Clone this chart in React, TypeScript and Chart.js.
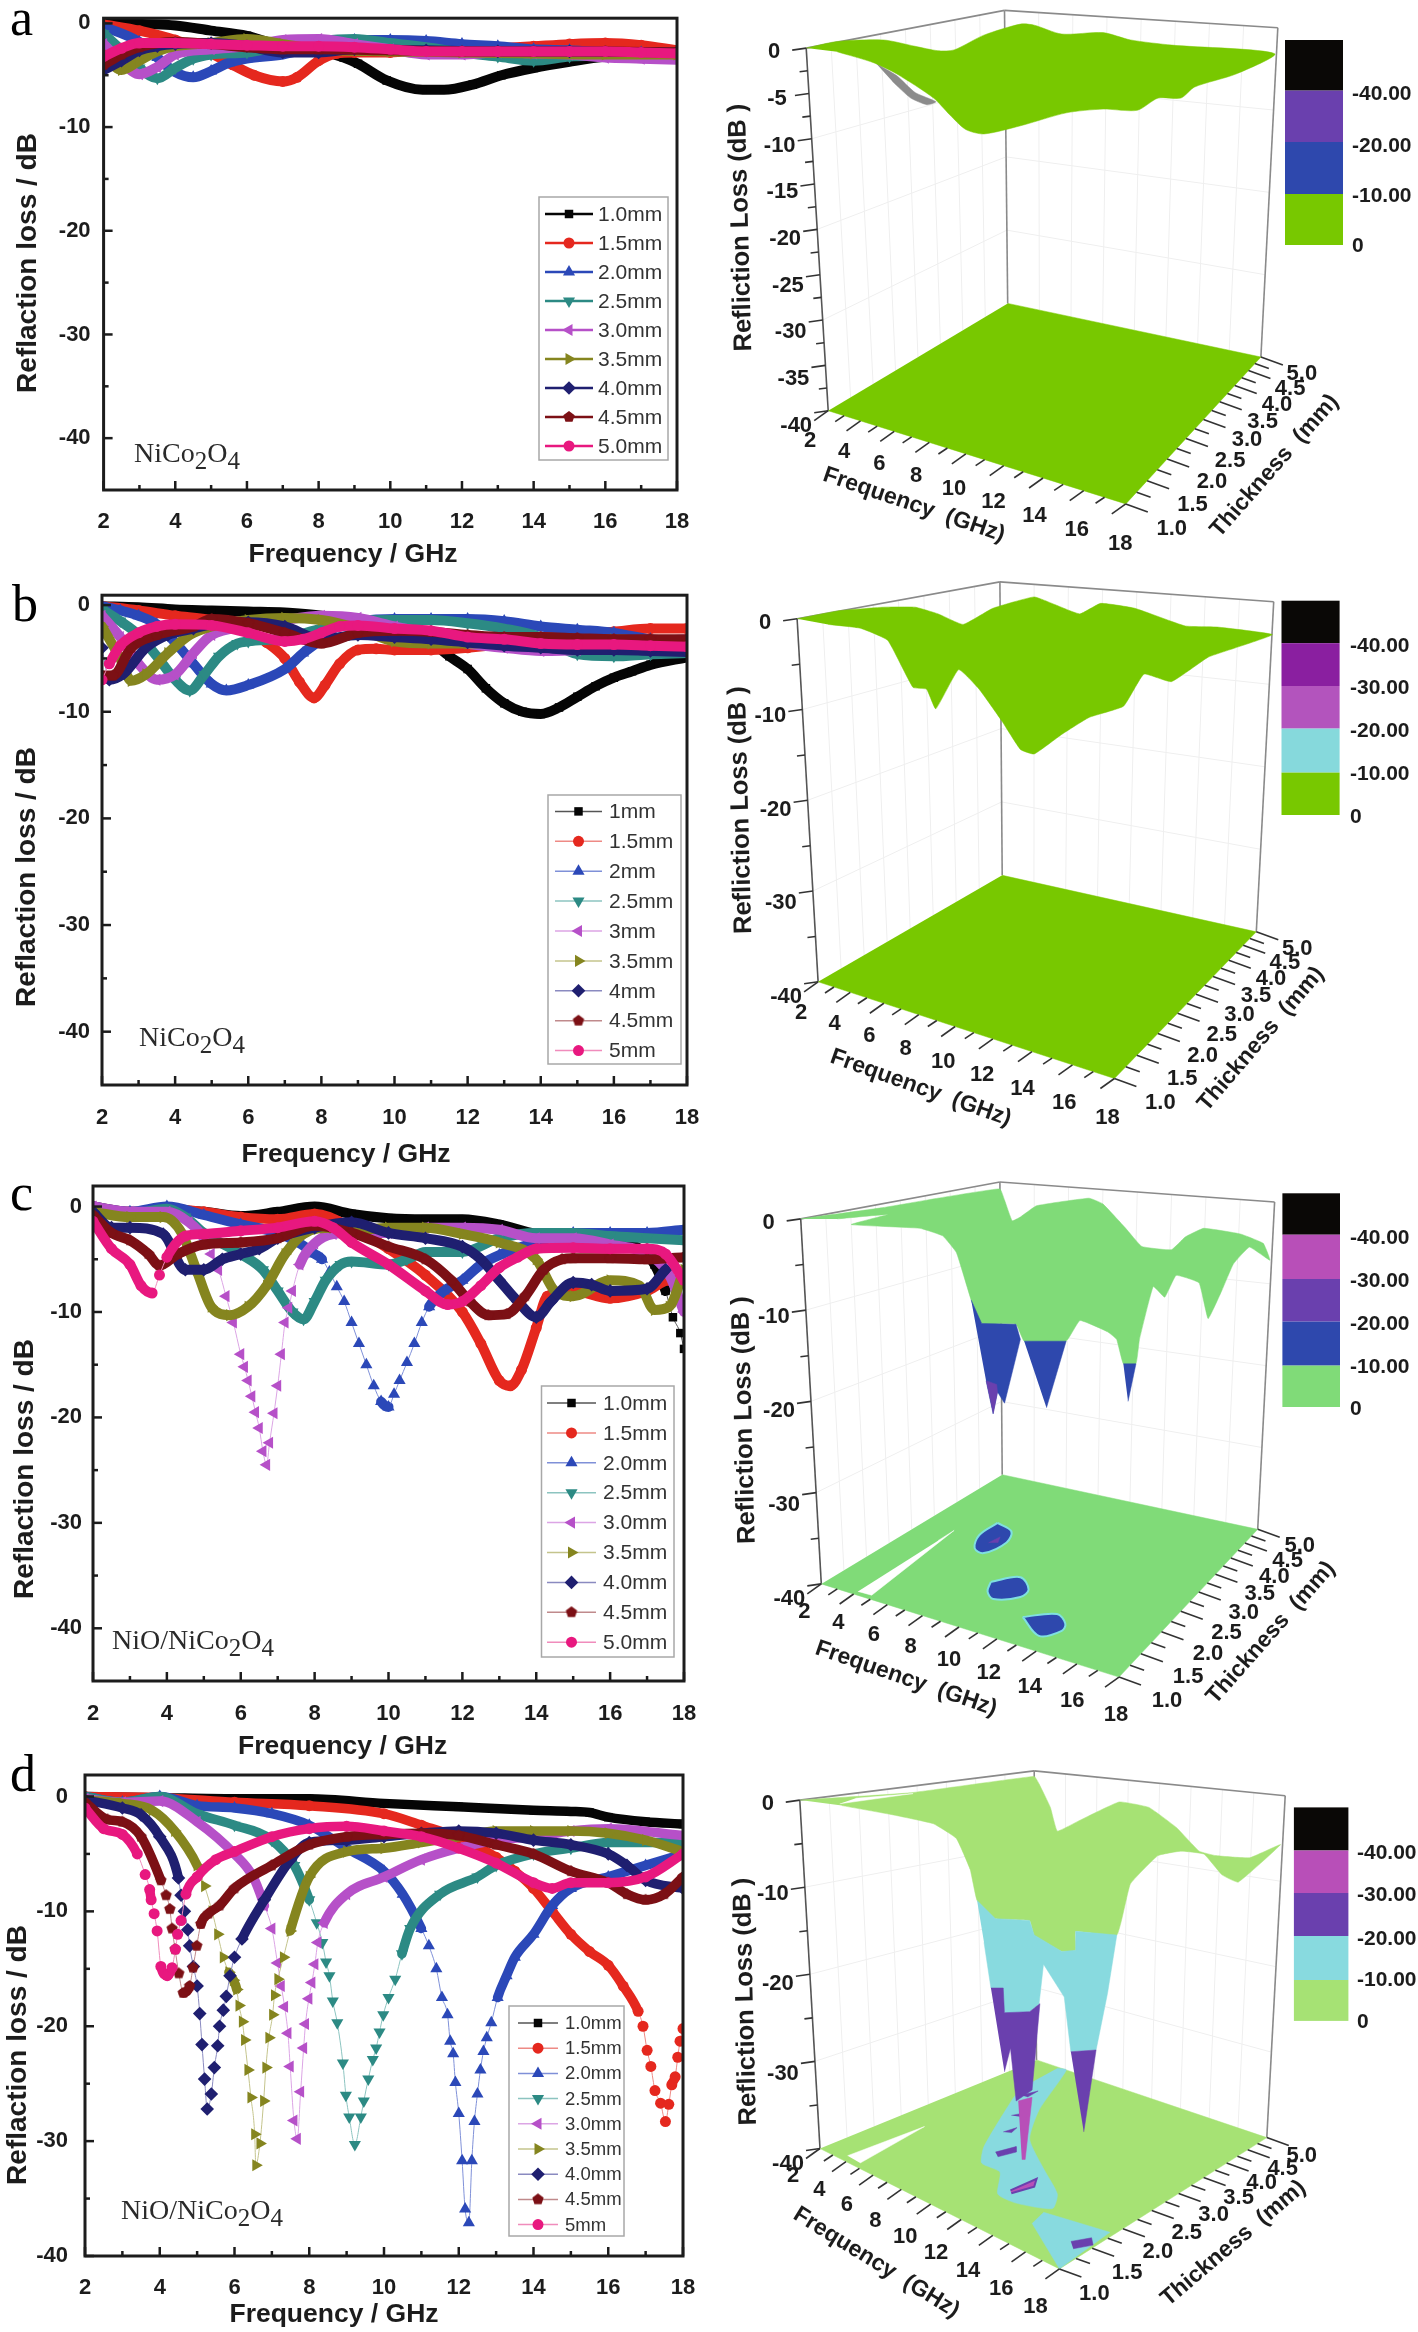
import React, { useEffect, useRef } from "react";
import { Chart, registerables } from "chart.js";
import { drawPoint } from "chart.js/helpers";

Chart.register(...registerables);

type P = [number, number];

/* ---------- tick labels ---------- */
const freqTicks = [2, 3, 4, 5, 6, 7, 8, 9, 10, 11, 12, 13, 14, 15, 16, 17, 18];
const dbTicks = [0, -5, -10, -15, -20, -25, -30, -35, -40];
const thickLabels = [1, 1.5, 2, 2.5, 3, 3.5, 4, 4.5, 5];

/* ---------- legends ---------- */
const legendFull = ["1.0mm", "1.5mm", "2.0mm", "2.5mm", "3.0mm", "3.5mm", "4.0mm", "4.5mm", "5.0mm"];
const legendShort = ["1mm", "1.5mm", "2mm", "2.5mm", "3mm", "3.5mm", "4mm", "4.5mm", "5mm"];
const legendD = ["1.0mm", "1.5mm", "2.0mm", "2.5mm", "3.0mm", "3.5mm", "4.0mm", "4.5mm", "5mm"];

/* ---------- panel a, reflection loss [GHz, dB] ---------- */
const a10: P[] = [[2,0],[4,-0.2],[5,-0.7],[6,-1.2],[7,-2.2],[8,-2.6],[8.7,-3.3],[9.1,-3.9],[9.9,-5.5],[10.9,-6.4],[11.5,-6.4],[12.3,-5.9],[13.1,-5],[14,-4.3],[15,-3.7],[16,-3.2],[18,-2.8]];
const a15: P[] = [[2,-0.1],[3,-0.7],[4,-1.6],[5,-2.9],[5.6,-4],[6.2,-5],[7,-5.6],[7.4,-5.2],[8,-3.6],[8.5,-2.9],[9,-2.8],[10,-2.8],[11,-2.6],[12,-2.6],[13,-2.4],[14,-2.2],[15,-2],[16,-1.9],[17,-2.1],[18,-2.6]];
const a20: P[] = [[2,-0.3],[3,-1.8],[3.5,-3.3],[4,-4.7],[4.5,-5.2],[5,-4.6],[5.5,-3.8],[6,-3.4],[7,-3],[8,-2.2],[9,-1.6],[10,-1.6],[11,-1.7],[12,-2],[13,-2.2],[14,-2.5],[15,-2.6],[16,-2.8],[17,-2.8],[18,-3]];
const a25: P[] = [[2,-1],[2.5,-2.6],[3,-4.3],[3.5,-5.3],[4,-4.3],[4.5,-3.4],[5,-3],[6,-2.8],[7,-2.2],[8,-1.7],[9,-1.5],[10,-1.9],[11,-2.3],[12,-2.8],[13,-3.2],[14,-3.6],[15,-3.2],[16,-3.1],[17,-3],[18,-3]];
const a30: P[] = [[2,-2],[2.5,-3.7],[3,-4.9],[3.5,-4.2],[4,-3],[5,-2.5],[6,-2.2],[7,-1.6],[8,-1.5],[9,-2],[10,-2.5],[11,-3],[12,-3],[13,-2.8],[14,-2.9],[15,-3],[16,-3.3],[17,-3.4],[18,-3.5]];
const a35: P[] = [[2,-3],[2.5,-4.5],[3,-3.6],[3.5,-2.7],[4,-2.2],[5,-1.9],[6,-1.5],[7,-2],[8,-2.5],[10,-2.7],[12,-2.8],[14,-2.9],[16,-3],[18,-3]];
const a40: P[] = [[2,-4.5],[2.5,-3.6],[3,-2.6],[3.5,-2.2],[4,-2],[5,-1.9],[6,-2.2],[7,-2.8],[8,-2.8],[9,-2.5],[11,-2.6],[13,-2.7],[15,-2.7],[18,-2.8]];
const a45: P[] = [[2,-4],[2.5,-3],[3,-2.3],[4,-1.8],[5,-2],[6,-2.3],[7,-2.5],[8,-2.5],[10,-2.6],[12,-2.7],[14,-2.7],[16,-2.7],[18,-2.8]];
const a50: P[] = [[2,-3.2],[2.5,-2.4],[3,-1.9],[4,-1.9],[5,-2],[6,-2.1],[7,-2.2],[8,-2.2],[9,-2.3],[10,-2.5],[11,-2.7],[12,-2.7],[13,-2.7],[14,-2.7],[15,-2.7],[16,-2.7],[17,-2.8],[18,-2.9]];

/* ---------- panel b ---------- */
const b10: P[] = [[2,-0.1],[3,-0.2],[4,-0.4],[5,-0.5],[6,-0.6],[7,-0.7],[8,-1],[9,-1.8],[10,-2.5],[11,-3.5],[11.5,-4.8],[12,-6],[12.5,-7.8],[13,-9.2],[13.5,-10],[14,-10.2],[14.5,-9.6],[15,-8.6],[15.5,-7.6],[16,-6.8],[16.5,-6.2],[17,-5.6],[18,-4.9]];
const b15: P[] = [[2,-0.1],[3,-0.5],[4,-1],[5,-1.4],[6,-2.4],[6.5,-3.5],[7,-5],[7.4,-7.2],[7.8,-8.7],[8.1,-7.5],[8.5,-5.5],[9,-4.2],[9.5,-4.1],[10,-4.2],[11,-4.2],[12,-4],[13,-3.6],[14,-3],[15,-2.8],[16,-2.5],[17,-2.2],[18,-2.2]];
const b20: P[] = [[2,-0.1],[2.5,-0.5],[3,-1],[3.5,-1.8],[4,-3.5],[4.5,-5.5],[5,-7.4],[5.4,-8],[6,-7.5],[7,-6],[7.5,-4.5],[8,-3.2],[8.5,-1.8],[9,-1.5],[10,-1.3],[11,-1.3],[12,-1.3],[13,-1.5],[14,-2],[15,-2.3],[16,-2.6],[17,-3.2],[18,-3.5]];
const b25: P[] = [[2,-0.4],[2.5,-1.5],[3,-2.8],[3.5,-4.8],[4,-7],[4.4,-8],[4.8,-6.5],[5.2,-4.8],[5.7,-3.6],[6,-3.4],[7,-3.1],[8,-2.2],[9,-1.5],[10,-1.4],[11,-1.4],[12,-1.7],[13,-2.2],[14,-3],[15,-4.6],[16,-4.8],[17,-4.6],[18,-4.5]];
const b30: P[] = [[2,-1],[2.5,-3],[3,-5.5],[3.5,-7],[4,-6.5],[4.5,-4.5],[5,-2.8],[6,-2],[7,-1.4],[8,-1],[9,-1.2],[10,-2],[11,-2.7],[12,-3.6],[13,-4],[14,-4.3],[15,-4.2],[16,-3.8],[17,-3.4],[18,-3.2]];
const b35: P[] = [[2,-2],[2.5,-5],[2.8,-7.1],[3.2,-6.5],[3.8,-4.5],[4.4,-2.8],[5,-2],[6,-1.4],[7,-1.2],[8,-1.4],[9,-2.2],[10,-3.4],[11,-3.6],[12,-3.6],[13,-3.4],[14,-3.2],[15,-3.2],[16,-3.2],[17,-3.4],[18,-3.6]];
const b40: P[] = [[2,-4],[2.2,-7],[2.6,-6.4],[3.2,-4],[3.8,-2.8],[4.5,-2.2],[5,-1.8],[6,-1.6],[7,-2],[8,-3.2],[9,-2.8],[10,-3],[11,-3.2],[12,-3.5],[13,-3.8],[14,-4],[15,-4.2],[16,-4.2],[17,-4.3],[18,-4.4]];
const b45: P[] = [[2,-6.6],[2.3,-6.6],[2.8,-4],[3.5,-2.8],[4.5,-2],[5,-1.3],[6,-1.7],[7,-2.6],[8,-3.6],[9,-2.6],[10,-2.4],[11,-2.5],[12,-2.8],[13,-3],[14,-3],[15,-3.1],[16,-3.2],[17,-3.2],[18,-3.2]];
const b50: P[] = [[2,-7],[2.2,-5.5],[2.5,-3.8],[3,-2.6],[3.5,-2],[4,-1.8],[5,-1.9],[6,-2.6],[7,-3.4],[7.5,-3.2],[8,-2.6],[8.5,-2],[9,-1.9],[10,-2.2],[11,-2.4],[12,-3],[13,-3.2],[14,-3.6],[15,-3.7],[16,-3.7],[17,-3.8],[18,-3.9]];

/* ---------- panel c ---------- */
const c10: P[] = [[2,0],[3,-0.6],[4,-0.3],[5,-0.5],[6,-0.9],[7,-0.5],[8,0],[9,-0.7],[10,-1.1],[11,-1.2],[12,-1.2],[13,-1.7],[14,-2.6],[15,-2.8],[16,-3.2],[16.8,-4],[17.2,-5.5],[17.5,-8],[17.7,-10.5],[17.9,-12],[18,-13.5]];
const c15: P[] = [[2,0],[3,-0.5],[4,-0.2],[5,-0.5],[6,-1],[7,-1.2],[8,-0.7],[9,-2],[10,-4],[11,-6.5],[12,-10],[12.5,-13],[13,-16.5],[13.3,-17],[13.6,-15.5],[14,-11.5],[14.3,-8.5],[15,-8],[16,-8.7],[17,-8],[17.6,-7],[18,-7]];
const c20: P[] = [[2,0],[3,-0.5],[4,0],[5,-0.8],[6,-1.7],[7,-2.5],[7.6,-3.5],[8,-4.5],[8.2,-5],[8.4,-6.2],[8.6,-7.6],[8.8,-9],[9,-11],[9.2,-13],[9.4,-15],[9.6,-17],[9.8,-18.5],[10,-19],[10.15,-17.8],[10.3,-16.5],[10.5,-14.8],[10.7,-13],[10.9,-11],[11.1,-9.5],[11.5,-8],[12,-7],[12.5,-5.5],[13,-4.6],[14,-3.4],[15,-2.5],[16,-2.5],[17,-2.5],[18,-2.2]];
const c25: P[] = [[2,0],[3,-0.7],[4,-0.2],[4.5,-1],[5,-2.5],[6,-4.5],[6.6,-6],[7,-8],[7.4,-10],[7.7,-10.7],[8,-9],[8.3,-7],[8.7,-5.5],[9,-5.2],[10,-5.5],[10.5,-5],[11,-4.3],[12,-4.3],[13,-3],[14,-2.5],[15,-2.5],[16,-2.8],[17,-3],[18,-3.2]];
const c30: P[] = [[2,0],[3,-0.5],[4,-0.5],[4.6,-1.5],[5,-3],[5.2,-4.5],[5.4,-6],[5.6,-8.5],[5.8,-11],[6,-14],[6.1,-15.2],[6.2,-16.5],[6.3,-18],[6.4,-19.5],[6.5,-21],[6.6,-23.2],[6.7,-24.5],[6.78,-22.4],[6.9,-19.6],[7,-17],[7.1,-14],[7.2,-11],[7.3,-9.6],[7.4,-8],[7.6,-5.5],[8,-3.5],[8.5,-2.6],[9,-2.5],[10,-2.5],[11,-2],[12,-2],[13,-2.2],[14,-3],[15,-3],[16,-3.6],[17,-4.5],[17.6,-6.5],[18,-10]];
const c35: P[] = [[2,-0.5],[3,-1],[3.9,-1],[4.4,-2.5],[4.8,-6],[5.2,-9.5],[5.7,-10.3],[6.2,-9.5],[6.7,-7.5],[7.2,-4.5],[7.7,-2.6],[8.5,-2],[9,-2.3],[10,-2],[11,-2],[12,-2.6],[13,-3.4],[14,-5],[14.5,-8],[15,-8.5],[16,-7],[16.8,-7.5],[17.2,-9.8],[17.6,-9.5],[18,-6]];
const c40: P[] = [[2,-0.5],[2.5,-2],[3,-2],[3.9,-2.6],[4.5,-6],[5,-6],[5.5,-5],[6,-4.5],[6.5,-4],[7,-3],[8,-2],[9,-1.5],[10,-2.5],[11,-3],[12,-3.8],[12.5,-5],[13,-7],[13.5,-9],[14,-10.5],[14.4,-9],[15,-7.2],[15.5,-7.4],[16,-8],[17,-7.8],[17.5,-6]];
const c45: P[] = [[2,-0.8],[2.5,-2.5],[3,-3.2],[3.5,-4.5],[3.8,-5.6],[4.3,-4.5],[5,-3.6],[6,-3.4],[7,-3],[8,-1.8],[9,-2.5],[10,-3.8],[11,-5],[11.7,-7],[12.2,-9],[12.7,-10.3],[13.2,-10.2],[13.7,-8.5],[14.2,-6],[14.7,-5],[15,-4.9],[16,-4.9],[17,-5],[18,-4.8]];
const c50: P[] = [[2,-1.4],[2.5,-4],[3,-5.5],[3.3,-7.5],[3.6,-8.2],[3.8,-6.5],[4,-4.8],[4.5,-2.8],[5,-2.6],[6,-2.3],[7,-2],[8,-1.4],[8.5,-2],[9,-3.4],[10,-5.5],[11,-8],[11.6,-9.3],[12,-9],[12.5,-7.5],[13,-5.8],[13.5,-4.8],[14,-4],[15,-3.9],[16,-4],[17,-4],[17.5,-4.5],[18,-7]];

/* ---------- panel d ---------- */
const d10: P[] = [[2,0],[4,-0.1],[6,-0.2],[8,-0.2],[10,-0.6],[12,-0.9],[14,-1.2],[15,-1.3],[15.5,-1.4],[16,-1.8],[17,-2.2],[18,-2.4]];
const d15: P[] = [[2,0],[4,-0.1],[6,-0.5],[8,-0.8],[10,-1.5],[11,-2.5],[12,-3.6],[13,-5.3],[13.5,-6.5],[14,-8],[14.5,-10],[15,-12],[15.5,-13.5],[16,-14.7],[16.4,-16.5],[16.8,-18.7],[16.93,-20],[17.04,-22.1],[17.14,-23.5],[17.25,-25.6],[17.4,-26.7],[17.53,-28.3],[17.62,-26.8],[17.7,-25.1],[17.79,-24.4],[17.86,-22.7],[17.92,-21.3],[18,-20.2]];
const d20: P[] = [[2,0],[3,-0.5],[4,0],[5,-0.8],[6,-1],[7,-1.5],[8,-2.5],[9,-4.5],[10,-6.5],[10.5,-8.5],[11,-11.5],[11.2,-13],[11.4,-15],[11.55,-17.5],[11.7,-19],[11.77,-21.3],[11.85,-22.4],[11.91,-24.9],[12,-27.6],[12.09,-31.7],[12.17,-35.9],[12.27,-37.1],[12.35,-31.7],[12.42,-28.3],[12.5,-25.9],[12.58,-23.8],[12.66,-22.2],[12.75,-21],[12.87,-19.7],[13.04,-17.5],[13.28,-15.6],[13.5,-14],[14,-12],[14.5,-9.5],[15,-8],[16,-7],[17,-6],[18,-5]];
const d25: P[] = [[2,0],[3,-0.5],[4,0],[5,-1.5],[6,-2.5],[7,-3.8],[7.6,-6],[8,-9],[8.2,-11],[8.35,-12.7],[8.45,-14.4],[8.54,-15.6],[8.63,-17.8],[8.75,-19.7],[8.9,-23.2],[8.98,-26],[9.07,-27.9],[9.22,-30.3],[9.38,-27.9],[9.46,-26.5],[9.58,-24.6],[9.7,-22.9],[9.79,-21.9],[9.88,-20.5],[9.98,-19],[10.12,-17.5],[10.3,-15.9],[10.48,-13.7],[10.7,-11.5],[11.5,-8.5],[12.5,-7],[13,-6],[14,-5],[15,-4.5],[16,-4],[18,-4]];
const d30: P[] = [[2,-0.2],[3,-0.5],[4,-0.4],[5,-2.2],[6,-5],[6.5,-7],[6.8,-9.5],[7,-11.5],[7.15,-14.5],[7.25,-16.5],[7.34,-18.3],[7.43,-20.6],[7.49,-23.5],[7.59,-28.2],[7.68,-29.8],[7.77,-25.7],[7.85,-21.9],[7.9,-19.8],[7.99,-17.6],[8.07,-16.2],[8.15,-14.6],[8.23,-12.7],[8.4,-11],[9,-8.5],[10,-7],[11,-5.5],[12,-4.5],[13,-3.8],[14,-3.5],[15,-3],[16,-2.8],[18,-3.4]];
const d35: P[] = [[2,-0.3],[3,-0.6],[3.8,-1.2],[4.4,-3],[5,-6],[5.2,-7.8],[5.4,-10],[5.55,-12],[5.7,-14],[5.85,-15.3],[5.97,-16],[6.06,-16.8],[6.12,-18.2],[6.21,-19.6],[6.27,-21.2],[6.36,-23.8],[6.44,-26.2],[6.54,-29.4],[6.57,-32.1],[6.68,-30.2],[6.78,-26.5],[6.84,-23.6],[6.92,-21],[7.02,-19],[7.07,-17.3],[7.16,-15.9],[7.31,-14],[7.49,-11.7],[8,-7],[9,-4.8],[10,-4.5],[11,-4],[12,-3.5],[13,-3],[14,-3],[15,-3],[16,-3.2],[17,-3.8],[18,-4.8]];
const d40: P[] = [[2,-0.3],[3,-1],[3.5,-1.6],[4,-3.5],[4.5,-7.1],[4.57,-8.6],[4.66,-10],[4.75,-11.6],[4.8,-13],[4.9,-14.8],[5,-16.5],[5.07,-18.9],[5.13,-21.6],[5.2,-24.6],[5.27,-27.2],[5.38,-25.9],[5.46,-23.6],[5.55,-21.7],[5.6,-20],[5.7,-18.6],[5.78,-17.4],[5.88,-15.6],[6,-14],[6.2,-12.4],[6.8,-9],[7.5,-5.5],[8,-4],[9,-3.8],[10,-3.5],[11,-3.2],[12,-3],[13,-3.2],[14,-3.8],[15,-4.2],[16,-5],[16.5,-6],[17,-7.3],[18,-8]];
const d45: P[] = [[2,-0.5],[2.6,-2],[3,-2.2],[3.5,-3.5],[4.03,-7.3],[4.17,-8.6],[4.27,-9.8],[4.33,-11.5],[4.41,-13.3],[4.51,-15.4],[4.63,-17.1],[4.8,-16.5],[4.89,-14.9],[4.99,-13],[5.1,-11.1],[5.3,-10.2],[5.6,-9.5],[6,-8],[7,-6],[8,-4.2],[9,-3.5],[10,-3.3],[11,-3.2],[12,-3.4],[13,-4.2],[14,-5],[15,-6.5],[16,-7.5],[16.5,-8.5],[17,-9],[17.5,-8.5],[18,-7]];
const d50: P[] = [[2,-1],[2.5,-2.8],[3,-3.3],[3.4,-5],[3.61,-6.8],[3.73,-8.1],[3.77,-9],[3.85,-10.2],[3.93,-11.7],[4.03,-14.8],[4.2,-15.6],[4.33,-14.9],[4.42,-13.3],[4.48,-12],[4.57,-10.8],[4.7,-8.5],[5,-7],[5.5,-5.5],[6,-4.8],[7,-3.5],[8,-2.8],[9,-2.6],[10,-3],[11,-3.5],[12,-4.5],[13,-5.8],[14,-7.5],[14.5,-8],[15,-7.5],[16,-7.5],[17,-7],[18,-5]];

/* ---------- 3D panels: projected outlines, [position along the box width on a 2-18 scale, dB on the left wall scale] ---------- */
const sa_surface: P[] = [[2,0],[3.06,0.73],[4.63,0.9],[5.72,0.2],[6.5,-0.29],[7.05,-0.2],[8.07,1.43],[9.32,2.65],[9.79,2.53],[10.73,1.55],[12.14,1.71],[13.08,0.9],[14.49,0.33],[18,-0.61],[16.68,-2.86],[15.27,-4.29],[14.8,-5.51],[14.02,-5.51],[13.31,-6.86],[12.14,-6.73],[10.89,-7.14],[9.32,-8.57],[8.07,-9.47],[7.45,-8.98],[6.9,-7.35],[6.35,-5.51],[5.1,-2.86],[4.32,-1.63],[3.06,-0.41]];
const sa_gray: P[] = [[4.39,-1.71],[5.1,-3.06],[5.72,-4.9],[6.43,-5.92],[6.12,-6.24],[5.57,-5.51],[4.94,-3.67]];

const sb_surface: P[] = [[2,0],[3.36,0.87],[4.9,1.28],[5.98,1.28],[6.75,0.54],[7.59,-0.62],[8.59,1.16],[9.98,2.41],[10.67,1.58],[11.52,0.54],[12.22,1.7],[13.37,1.16],[15.07,-0.79],[16.15,-0.91],[18,-1.74],[16.76,-3.2],[15.84,-4.23],[14.6,-6.93],[13.68,-6.1],[12.99,-9.63],[11.83,-10.87],[10.91,-12.74],[9.98,-14.9],[9.52,-14.4],[8.9,-11.29],[8.13,-7.76],[7.44,-5.6],[6.67,-9.92],[6.36,-7.76],[5.9,-7.55],[5.05,-2.37],[4.13,-1.04],[3.05,-0.62]];

const sc_surface: P[] = [[2,0],[4.81,1.24],[6.68,2.27],[8.79,3.29],[8.95,2.06],[9.21,-0.21],[9.49,0.21],[10.04,1.44],[11.83,2.27],[12.3,1.65],[13.08,-1.03],[13.63,-3.02],[14.64,-3.38],[15.11,-1.98],[15.74,-1.03],[16.99,-1.65],[17.77,-2.68],[18,-4.54],[17.3,-3.09],[16.75,-4.95],[16.36,-7.84],[15.89,-10.93],[15.58,-7.01],[14.8,-6.19],[14.41,-8.58],[14.02,-7.42],[13.55,-13.2],[13.43,-15.88],[13,-15.88],[12.77,-13.2],[12.46,-12.37],[11.52,-11.13],[11.05,-13.4],[9.62,-13.4],[9.34,-11.55],[8.17,-11.46],[7.81,-8.87],[7.31,-3.7],[6.84,-1.86],[6.06,-1.03],[3.72,-0.62],[4.97,0.49],[3.25,0]];
const sc_blue1: P[] = [[7.81,-8.87],[8.17,-11.46],[9.34,-11.55],[9.49,-13.2],[8.95,-20.2],[8.71,-18.97],[8.56,-21.36],[8.32,-17.73]];
const sc_blue2: P[] = [[9.62,-13.4],[11.05,-13.4],[10.38,-20.7]];
const sc_blue3: P[] = [[13,-15.88],[13.43,-15.88],[13.16,-20]];
const sc_purple: P[] = [[8.32,-17.73],[8.68,-18.14],[8.71,-18.97],[8.56,-21.36]];
const sc_white: P[] = [[6.68,-35.26],[7.23,-34.14],[4.42,-41.24],[3.95,-40.82]];
const sc_blob1: P[] = [[8.71,-33.32],[9.18,-34.23],[9.02,-35.46],[8.24,-36.62],[7.93,-36.08],[8.09,-34.64],[8.71,-33.32]];
const sc_blob2: P[] = [[8.48,-39.79],[9.49,-39.26],[9.77,-40.62],[9.49,-41.44],[8.56,-41.65],[8.37,-40.82],[8.48,-39.79]];
const sc_blob3: P[] = [[9.57,-43.63],[10.74,-43.3],[11.02,-44.33],[10.9,-45.15],[10.12,-45.69],[9.57,-43.63]];
const sc_spot: P[] = [[8.4,-35.5],[8.8,-34.85],[8.72,-35.5]];

const sd_surface: P[] = [[2,0],[5.69,0.84],[9.8,2.72],[9.96,1.88],[10.34,-0.84],[10.57,-3.56],[11.33,-2.3],[12.63,-0.21],[13.62,-0.84],[14.53,-3.14],[15.29,-5.86],[15.83,-6.37],[16.97,-6.62],[18,-5.1],[16.59,-9.42],[16.05,-8.58],[15.45,-6.2],[14.68,-5.86],[13.92,-6.37],[13,-9.63],[12.55,-15.49],[11.18,-15.07],[11.18,-17.25],[10.72,-17.38],[9.8,-15.49],[9.65,-13.82],[8.51,-13.61],[7.9,-11.52],[7.67,-7.96],[7.21,-4.4],[6.45,-2.72],[5.08,-1.68],[3.4,-0.63]];
const sd_sliver: P[] = [[3.33,-0.42],[5.77,0.75],[3.86,0.21]];
const sd_cyan: P[] = [[7.9,-11.52],[8.51,-13.61],[9.65,-13.82],[9.8,-15.49],[10.72,-17.38],[11.18,-17.25],[11.18,-15.07],[12.55,-15.49],[12.24,-22.19],[11.86,-28.69],[11.02,-28.89],[10.8,-22.61],[10.11,-18.84],[9.96,-23.45],[9.65,-24.29],[8.81,-24.5],[8.74,-21.57],[8.36,-21.57],[8.13,-16.33]];
const sd_purple: P[] = [[8.36,-21.57],[8.77,-21.57],[8.81,-24.41],[9.65,-24.29],[9.99,-23.37],[9.73,-33.29],[9.2,-34.55],[9.01,-28.48],[8.81,-31.2]];
const sd_magenta: P[] = [[9.27,-34.55],[9.73,-34.13],[9.5,-41.25],[9.39,-41.25]];
const sd_purple2: P[] = [[11.02,-28.89],[11.86,-28.69],[11.45,-38.11]];
const sd_floorBand: P[] = [[10.57,-30.78],[10.87,-30.99],[9.96,-35.6],[9.65,-38.94],[10.11,-42.3],[10.57,-45.23],[10.41,-46.9],[9.2,-46.27],[8.59,-45.23],[8.66,-42.71],[8.05,-41.67],[8.13,-39.78],[9.04,-34.55],[9.35,-33.08]];
const sd_floorTip: P[] = [[10.11,-47.32],[12.32,-49.62],[10.64,-53.81],[9.73,-48.58]];
const sd_spotA: P[] = [[8.51,-40.41],[9.2,-39.78],[9.2,-40.41],[8.59,-40.95]];
const sd_spotB: P[] = [[9.01,-44.81],[9.88,-43.47],[9.8,-44.39],[9.04,-45.14]];
const sd_spotC: P[] = [[11.02,-50.67],[11.71,-50.25],[11.76,-51.09],[11.1,-51.51]];
const sd_spotD: P[] = [[8.77,-38.1],[9.23,-37.6],[9.04,-38.19]];
const sd_spotE: P[] = [[9.04,-36.2],[9.65,-35.8],[9.35,-36.35]];
const sd_spotF: P[] = [[9.35,-33.9],[9.93,-33.4],[9.58,-34.1]];
const sd_white: P[] = [[3.59,-40.83],[6.15,-37.48],[4.01,-41.67]];

/* ---------- colours ---------- */
const seriesColors = ["#050505", "#e5281e", "#2b48b8", "#2c8a84", "#b650c8", "#85851f", "#1f1f70", "#7c1015", "#e8187f"];
const lineTints = ["#555555", "#ee8a85", "#7f90d8", "#8cc4c0", "#dca5e5", "#c4c48c", "#8a8ac0", "#c08a8c", "#f08cbc"];
const GREEN_A = "#78c800";
const GREEN_C = "#80db78";
const GREEN_D = "#a6e274";
const BLUE = "#2e48ad";
const CYAN = "#88dadf";
const VIOLET = "#6a40ae";
const MAGENTA = "#b84fb8";
const INK = "#1c1c1c";

const SANS = '"Liberation Sans", Arial, sans-serif';
const SERIF = '"Liberation Serif", "Times New Roman", serif';

function pentagon(color: string, r: number) {
  const c = document.createElement("canvas");
  c.width = c.height = Math.ceil(r * 2 + 2);
  const g = c.getContext("2d")!;
  g.fillStyle = color;
  g.beginPath();
  for (let i = 0; i < 5; i++) {
    const a = -Math.PI / 2 + (i * 2 * Math.PI) / 5;
    g.lineTo(c.width / 2 + r * Math.cos(a), c.height / 2 + r * Math.sin(a));
  }
  g.closePath();
  g.fill();
  return c;
}

function rotText(ctx: CanvasRenderingContext2D, s: string, x: number, y: number, deg: number, font: string, color = INK) {
  ctx.save();
  ctx.translate(x, y);
  ctx.rotate((deg * Math.PI) / 180);
  ctx.font = font;
  ctx.fillStyle = color;
  ctx.textAlign = "center";
  ctx.textBaseline = "middle";
  ctx.fillText(s, 0, 0);
  ctx.restore();
}

/* ---------- left-hand panels ---------- */
const leftPanels = [
  { letter: "a", lx: 10, ly: 35, top: 0, h: 578, fx: [103.6, 677], fy: [9, 490], y: [-45, 0.5], pad: 11, pady: 5, series: [a10, a15, a20, a25, a30, a35, a40, a45, a50],
    yt: [28, 263], xt: [353, 555], labels: legendFull, box: [539, 197, 129, 263], row: [214, 29], ls: [545, 593], tx: 598, fs: 21, lw: 10, lineTint: false,
    formula: ["NiCo", "2", "O", "4"], ft: [134, 462] },
  { letter: "b", lx: 12, ly: 621, top: 578, h: 592, fx: [102, 687], fy: [593, 1085], y: [-45, 0.93], pad: 12, pady: 4, series: [b10, b15, b20, b25, b30, b35, b40, b45, b50],
    yt: [27, 877], xt: [346, 1155], labels: legendShort, box: [548, 795, 133, 269], row: [811.4, 29.9], ls: [555, 602], tx: 609, fs: 21, lw: 10, lineTint: true,
    formula: ["NiCo", "2", "O", "4"], ft: [139, 1046] },
  { letter: "c", lx: 10, ly: 1210, top: 1168, h: 592, fx: [93, 684], fy: [1186, 1681], y: [-45, 1.95], pad: 12, pady: 3, series: [c10, c15, c20, c25, c30, c35, c40, c45, c50],
    yt: [25, 1469], xt: [342.6, 1747], labels: legendFull, box: [541.5, 1386, 132.5, 271], row: [1403, 29.9], ls: [547, 596], tx: 603, fs: 21, lw: 10, lineTint: true,
    formula: ["NiO/NiCo", "2", "O", "4"], ft: [112, 1648.6] },
  { letter: "d", lx: 10, ly: 1791, top: 1748, h: 584, fx: [85, 683], fy: [1775, 2256], y: [-40, 1.87], pad: 11, pady: 9, series: [d10, d15, d20, d25, d30, d35, d40, d45, d50],
    yt: [18, 2055], xt: [334, 2315], labels: legendD, box: [509, 2006, 115, 230], row: [2023, 25.2], ls: [518, 558], tx: 565, fs: 18.5, lw: 9.5, lineTint: true,
    formula: ["NiO/NiCo", "2", "O", "4"], ft: [121, 2219] },
];

const rotations = [0, 0, 0, 180, -90, 90, 0, 0, 0];
const radii = [6, 5.5, 7, 7, 7, 7, 6.8, 6, 5.5];

function makeLeft(canvas: HTMLCanvasElement, p: (typeof leftPanels)[number]) {
  const W = 760;
  const styles: any[] = ["rect", "circle", "triangle", "triangle", "triangle", "triangle", "rectRot", pentagon(seriesColors[7], 6), "circle"];
  const decor = {
    id: "decor",
    afterDatasetsDraw(chart: any) {
      const ctx: CanvasRenderingContext2D = chart.ctx;
      const { x, y } = chart.scales;
      const a = chart.chartArea;
      ctx.save();
      ctx.translate(0, -p.top);
      const off = p.top;
      ctx.strokeStyle = INK;
      ctx.lineWidth = 3;
      ctx.strokeRect(a.left, a.top + off, a.right - a.left, a.bottom - a.top);
      ctx.lineWidth = 2.5;
      freqTicks.forEach((v) => {
        const px = x.getPixelForValue(v);
        const len = v % 2 === 0 ? 9 : 5;
        ctx.beginPath();
        ctx.moveTo(px, a.bottom + off);
        ctx.lineTo(px, a.bottom + off - len);
        ctx.stroke();
      });
      dbTicks.forEach((v) => {
        const py = y.getPixelForValue(v) + off;
        const len = v % 10 === 0 ? 9 : 5;
        ctx.beginPath();
        ctx.moveTo(a.left, py);
        ctx.lineTo(a.left + len, py);
        ctx.stroke();
      });
      // axis titles
      rotText(ctx, "Frequency / GHz", p.xt[0], p.xt[1], 0, `bold 26.5px ${SANS}`);
      rotText(ctx, "Reflaction loss / dB", p.yt[0], p.yt[1], -90, `bold 28px ${SANS}`);
      // panel letter
      ctx.font = `52px ${SERIF}`;
      ctx.fillStyle = "#000";
      ctx.textAlign = "left";
      ctx.textBaseline = "alphabetic";
      ctx.fillText(p.letter, p.lx, p.ly);
      // material label
      let fx = p.ft[0];
      ctx.fillStyle = "#2a2a2a";
      p.formula.forEach((s, i) => {
        const sub = i % 2 === 1;
        ctx.font = `${sub ? 25 : 28}px ${SERIF}`;
        ctx.fillText(s, fx, p.ft[1] + (sub ? 7 : 0));
        fx += ctx.measureText(s).width;
      });
      // legend
      ctx.strokeStyle = "#a8a8a8";
      ctx.lineWidth = 1.5;
      ctx.strokeRect(p.box[0], p.box[1], p.box[2], p.box[3]);
      p.labels.forEach((lab, i) => {
        const ry = p.row[0] + i * p.row[1];
        ctx.strokeStyle = p.lineTint ? lineTints[i] : seriesColors[i];
        ctx.lineWidth = p.lineTint ? 1.5 : 2.5;
        ctx.beginPath();
        ctx.moveTo(p.ls[0], ry);
        ctx.lineTo(p.ls[1], ry);
        ctx.stroke();
        ctx.fillStyle = seriesColors[i];
        drawPoint(ctx, { pointStyle: styles[i], rotation: rotations[i], radius: radii[i], borderWidth: 0 } as any, (p.ls[0] + p.ls[1]) / 2, ry);
        ctx.fillStyle = "#333";
        ctx.font = `${p.fs}px ${SANS}`;
        ctx.textBaseline = "middle";
        ctx.fillText(lab, p.tx, ry + 1);
      });
      ctx.restore();
    },
  };
  const thin = (c: any) =>
    Math.abs(c.p1.parsed.x - c.p0.parsed.x) <= 0.21 && Math.abs(c.p1.parsed.y - c.p0.parsed.y) >= 1;
  return new Chart(canvas, {
    type: "scatter",
    data: {
      datasets: p.series.map((s, i) => ({
        label: p.labels[i],
        data: s.map(([f, v]) => ({ x: f, y: v })),
        showLine: true,
        order: 8 - i,
        borderColor: seriesColors[i],
        backgroundColor: seriesColors[i],
        borderWidth: p.lw,
        borderCapStyle: "round",
        borderJoinStyle: "round",
        cubicInterpolationMode: "monotone",
        pointRadius: radii[i],
        pointHoverRadius: radii[i],
        pointBorderWidth: 0,
        pointStyle: styles[i],
        pointRotation: rotations[i],
        segment: {
          borderWidth: (c: any) => (thin(c) ? 1 : p.lw),
          borderColor: (c: any) => (thin(c) ? lineTints[i] : seriesColors[i]),
        },
      })),
    } as any,
    options: {
      animation: false,
      responsive: false,
      devicePixelRatio: 1,
      layout: { autoPadding: false, padding: { left: 0, bottom: 0, top: p.fy[0] - p.top, right: W - p.fx[1] } },
      plugins: { legend: { display: false }, tooltip: { enabled: false } },
      scales: {
        x: {
          type: "linear", min: 2, max: 18,
          grid: { display: false }, border: { display: false },
          afterFit: (s: any) => { s.height = p.top + p.h - p.fy[1]; },
          afterBuildTicks: (s: any) => { s.ticks = freqTicks.map((v) => ({ value: v })); },
          ticks: { autoSkip: false, maxRotation: 0, color: INK, padding: p.pad, font: { family: SANS, weight: "bold", size: 22 }, callback: (v: any) => (v % 2 === 0 ? String(v) : "") },
        },
        y: {
          type: "linear", min: p.y[0], max: p.y[1],
          grid: { display: false }, border: { display: false },
          afterFit: (s: any) => { s.width = p.fx[0]; },
          afterBuildTicks: (s: any) => { s.ticks = dbTicks.filter((v) => v >= p.y[0]).map((v) => ({ value: v })); },
          ticks: { autoSkip: false, color: INK, padding: p.pady, font: { family: SANS, weight: "bold", size: 22 }, callback: (v: any) => (v % 10 === 0 ? String(v) : "") },
        },
      },
    } as any,
    plugins: [decor],
  });
}

/* ---------- right-hand 3D panels ---------- */
type Poly = { pts: P[]; fill: string; stroke?: string; smooth?: number };
const rightPanels: any[] = [
  {
    top: 0, h: 578, zStep: 5, zMinor: 2.5,
    At: [806.2, 48.1], Dt: [1004.5, 10.4], Ct: [1277.8, 27.7], A: [828.2, 410.7], D: [1007.7, 303.4], C: [1260.9, 357], B: [1125.8, 503.9],
    u: [806.2, 1274.6], v: [48.1, 410.7], floor: GREEN_A,
    polys: [{ pts: sa_gray, fill: "#8b8b8b", smooth: 0.2 }, { pts: sa_surface, fill: GREEN_A, smooth: 0.25 }] as Poly[],
    bar: { x: [1285, 1343], ys: [40, 90.6, 142, 194, 245], colors: ["#0a0806", VIOLET, BLUE, GREEN_A], labels: ["-40.00", "-20.00", "-10.00", "0"], lys: [94, 146, 196, 246], lx: 1352 },
    tZ: [741, 227.5], tF: [914, 505, 18.8], tT: [1274.6, 466, -48.7],
    fo: [[-18, 30], [-5.5, 40]], to: [[46, 25], [41, 17]],
  },
  {
    top: 578, h: 592, zStep: 10, zMinor: 5,
    At: [797.1, 618.8], Dt: [999.9, 581.9], Ct: [1273.7, 601.8], A: [818.1, 981.8], D: [1002.2, 875.3], C: [1256.3, 931.8], B: [1114.4, 1078.5],
    u: [797.1, 1272.3], v: [618.8, 981.8], floor: GREEN_A,
    polys: [{ pts: sb_surface, fill: GREEN_A, smooth: 0.12 }] as Poly[],
    bar: { x: [1281.5, 1339.6], ys: [600.7, 643.2, 686, 728.6, 772.6, 815], colors: ["#0a0806", "#8a1fa0", "#b354bd", "#86d9dc", GREEN_A], labels: ["-40.00", "-30.00", "-20.00", "-10.00", "0"], lys: [645.8, 688, 731, 774, 817], lx: 1350 },
    tZ: [741, 810], tF: [920.7, 1088, 19.6], tT: [1261, 1039, -49.5],
    fo: [[-17, 31], [-7, 39.5]], to: [[46, 24], [41, 17]],
  },
  {
    top: 1170, h: 585, zStep: 10, zMinor: 5,
    At: [800.7, 1218.9], Dt: [999.9, 1182], Ct: [1274.6, 1202], A: [821.3, 1583.9], D: [1002.2, 1474.7], C: [1257.7, 1529.3], B: [1119, 1677.1],
    u: [800.7, 1270], v: [1218.9, 1583.9], floor: GREEN_C,
    polys: [
      { pts: sc_white, fill: "#ffffff" },
      { pts: sc_blob1, fill: BLUE, stroke: "#7fe0e0", smooth: 0.35 }, { pts: sc_blob2, fill: BLUE, stroke: "#7fe0e0", smooth: 0.35 }, { pts: sc_blob3, fill: BLUE, stroke: "#7fe0e0", smooth: 0.35 },
      { pts: sc_spot, fill: VIOLET },
      { pts: sc_surface, fill: GREEN_C, smooth: 0.1 },
      { pts: sc_blue1, fill: BLUE }, { pts: sc_blue2, fill: BLUE }, { pts: sc_blue3, fill: BLUE }, { pts: sc_purple, fill: VIOLET },
    ] as Poly[],
    bar: { x: [1282.4, 1340], ys: [1193.3, 1234.7, 1279, 1321.6, 1365.6, 1407], colors: ["#0a0806", MAGENTA, VIOLET, BLUE, GREEN_C], labels: ["-40.00", "-30.00", "-20.00", "-10.00", "0"], lys: [1238.5, 1281, 1324, 1366.8, 1409], lx: 1350 },
    tZ: [744.4, 1420], tF: [906, 1678.7, 19], tT: [1271, 1632.8, -48.5],
    fo: [[-17, 28], [-3, 38]], to: [[48, 24], [42, 17]],
  },
  {
    top: 1755, h: 577, zStep: 10, zMinor: 5,
    At: [799.8, 1800.1], Dt: [1034.2, 1770.9], Ct: [1285.2, 1795.8], A: [820, 2148.5], D: [1036.5, 2059.9], C: [1266.8, 2137.6], B: [1059.4, 2268.9],
    u: [799.8, 1280.6], v: [1800.1, 2148.5], floor: GREEN_D,
    polys: [
      { pts: sd_white, fill: "#ffffff" },
      { pts: sd_floorBand, fill: CYAN, smooth: 0.2 }, { pts: sd_floorTip, fill: CYAN },
      { pts: sd_spotA, fill: VIOLET }, { pts: sd_spotB, fill: MAGENTA, stroke: VIOLET }, { pts: sd_spotC, fill: VIOLET },
      { pts: sd_spotD, fill: VIOLET }, { pts: sd_spotE, fill: VIOLET }, { pts: sd_spotF, fill: VIOLET },
      { pts: sd_surface, fill: GREEN_D, smooth: 0.1 }, { pts: sd_sliver, fill: "#ffffff" },
      { pts: sd_cyan, fill: CYAN }, { pts: sd_purple, fill: VIOLET }, { pts: sd_magenta, fill: MAGENTA }, { pts: sd_purple2, fill: VIOLET },
    ] as Poly[],
    bar: { x: [1293.9, 1348.4], ys: [1807.4, 1850.5, 1893, 1936, 1980, 2020.9], colors: ["#0a0806", MAGENTA, VIOLET, CYAN, GREEN_D], labels: ["-40.00", "-30.00", "-20.00", "-10.00", "0"], lys: [1853, 1895.7, 1938.8, 1980.7, 2022.7], lx: 1357 },
    tZ: [745.8, 2001.5], tF: [876.3, 2262.7, 31.7], tT: [1233.4, 2243.4, -40.2],
    fo: [[-27, 27], [-24, 38]], to: [[35, 25.5], [35, 18]],
  },
];

function makeRight(canvas: HTMLCanvasElement, g: any) {
  const W = 718;
  const CX = 700;
  const uPer = 16 / (g.u[1] - g.u[0]);
  const vPer = 40 / (g.v[1] - g.v[0]);
  const xMin = 2 + (CX - g.u[0]) * uPer;
  const xMax = 2 + (CX + W - g.u[0]) * uPer;
  const yMax = (g.v[0] - g.top) * vPer;
  const yMin = -(g.top + g.h - g.v[0]) * vPer;
  const lerp = (a: number[], b: number[], t: number) => [a[0] + (b[0] - a[0]) * t, a[1] + (b[1] - a[1]) * t];
  const project = (f: number, t: number, z: number) => {
    const tf = (f - 2) / 16;
    const tt = (t - 1) / 4;
    const floor = lerp(lerp(g.A, g.B, tf), lerp(g.D, g.C, tf), tt);
    const oA = [g.At[0] - g.A[0], g.At[1] - g.A[1]];
    const oD = [g.Dt[0] - g.D[0], g.Dt[1] - g.D[1]];
    const oC = [g.Ct[0] - g.C[0], g.Ct[1] - g.C[1]];
    const oB = [(oA[0] + oC[0]) / 2, (oA[1] + oC[1]) / 2];
    const o = lerp(lerp(oA, oB, tf), lerp(oD, oC, tf), tt);
    const k = 1 + z / 40;
    return [floor[0] + o[0] * k, floor[1] + o[1] * k];
  };
  // the front edges are foreshortened by the perspective of the box
  const warpF = (f: number) => { const s = (f - 2) / 16; return 2 + 16 * (s - 0.15 * s * (1 - s)); };
  const warpT = (t: number) => { const s = (t - 1) / 4; return 1 + 4 * (s + 0.3 * s * (1 - s)); };
  const toData = (p: number[]) => ({ x: 2 + (p[0] - g.u[0]) * uPer, y: -(p[1] - g.v[0]) * vPer });
  const line = (ctx: CanvasRenderingContext2D, a: number[], b: number[]) => {
    ctx.beginPath();
    ctx.moveTo(a[0], a[1]);
    ctx.lineTo(b[0], b[1]);
    ctx.stroke();
  };
  const floorPoly = [g.A, g.B, g.C, g.D].map(toData);
  const polys = [{ data: floorPoly, fill: g.floor, stroke: undefined as any, smooth: 0 }].concat(
    g.polys.map((q: Poly) => ({ data: q.pts.map(([x, y]) => ({ x, y })), fill: q.fill, stroke: q.stroke, smooth: q.smooth || 0 }))
  );
  const decor = {
    id: "decor3d",
    beforeDatasetsDraw(chart: any) {
      const ctx: CanvasRenderingContext2D = chart.ctx;
      ctx.save();
      ctx.translate(-CX, -g.top);
      ctx.strokeStyle = "#efefef";
      ctx.lineWidth = 1;
      for (let z = -10; z > -40; z -= 10) {
        line(ctx, project(2, 1, z), project(2, 5, z));
        line(ctx, project(2, 5, z), project(18, 5, z));
      }
      for (let f = 4; f < 18; f += 2) line(ctx, project(f, 5, 0), project(f, 5, -40));
      for (let t = 1.5; t < 5; t += 0.5) line(ctx, project(2, t, 0), project(2, t, -40));
      ctx.strokeStyle = "#8a8a8a";
      ctx.lineWidth = 1.6;
      line(ctx, g.At, g.Dt);
      line(ctx, g.Dt, g.Ct);
      line(ctx, g.Dt, g.D);
      line(ctx, g.Ct, g.C);
      ctx.strokeStyle = "#555";
      line(ctx, g.At, g.A);
      ctx.restore();
    },
    afterDatasetsDraw(chart: any) {
      const ctx: CanvasRenderingContext2D = chart.ctx;
      ctx.save();
      ctx.translate(-CX, -g.top);
      ctx.strokeStyle = "#333";
      ctx.lineWidth = 1.6;
      const zVals: number[] = [];
      for (let z = 0; z >= -40; z -= g.zMinor) zVals.push(z);
      zVals.forEach((z) => {
        const p = project(2, 1, z);
        const major = Math.abs(z % g.zStep) < 1e-6;
        line(ctx, p, [p[0] - (major ? 14 : 8), p[1] + (major ? 2 : 1)]);
        if (major) rotText(ctx, String(z), p[0] - 32, p[1] + 4 + (-z / 40) * 11, 0, `bold 22px ${SANS}`);
      });
      freqTicks.forEach((f) => {
        const p = project(warpF(f), 1, -40);
        const major = f % 2 === 0;
        line(ctx, p, [p[0] - (major ? 14 : 9), p[1] + (major ? 10 : 6)]);
        if (major) {
          const o = lerp(g.fo[0], g.fo[1], (f - 2) / 16);
          rotText(ctx, String(f), p[0] + o[0], p[1] + o[1], 0, `bold 22px ${SANS}`);
        }
      });
      for (let i = 0; i <= 16; i++) {
        const t = 1 + i * 0.25;
        const p = project(18, warpT(t), -40);
        const major = i % 2 === 0;
        line(ctx, p, [p[0] + (major ? 22 : 14), p[1] + (major ? 8 : 5)]);
      }
      thickLabels.forEach((t) => {
        const p = project(18, warpT(t), -40);
        const o = lerp(g.to[0], g.to[1], (t - 1) / 4);
        rotText(ctx, t.toFixed(1), p[0] + o[0], p[1] + o[1], 0, `bold 22px ${SANS}`);
      });
      rotText(ctx, "Refliction Loss (dB )", g.tZ[0], g.tZ[1], -91.5, `bold 25.5px ${SANS}`);
      rotText(ctx, "Frequency  (GHz)", g.tF[0], g.tF[1], g.tF[2], `bold 23px ${SANS}`);
      rotText(ctx, "Thickness  (mm)", g.tT[0], g.tT[1], g.tT[2], `bold 23px ${SANS}`);
      g.bar.colors.forEach((c: string, i: number) => {
        ctx.fillStyle = c;
        ctx.fillRect(g.bar.x[0], g.bar.ys[i], g.bar.x[1] - g.bar.x[0], g.bar.ys[i + 1] - g.bar.ys[i]);
      });
      g.bar.labels.forEach((s: string, i: number) => {
        ctx.font = `bold 21px ${SANS}`;
        ctx.fillStyle = INK;
        ctx.textAlign = "left";
        ctx.textBaseline = "middle";
        ctx.fillText(s, g.bar.lx, g.bar.lys[i]);
      });
      ctx.restore();
    },
  };
  return new Chart(canvas, {
    type: "scatter",
    data: {
      datasets: polys.map((q: any, i: number) => ({
        data: q.data,
        showLine: true,
        fill: "shape",
        order: polys.length - i,
        backgroundColor: q.fill,
        borderColor: q.stroke || q.fill,
        borderWidth: q.stroke ? 2 : 0.5,
        pointRadius: 0,
        tension: q.smooth,
      })),
    } as any,
    options: {
      animation: false,
      responsive: false,
      devicePixelRatio: 1,
      layout: { autoPadding: false, padding: 0 },
      plugins: { legend: { display: false }, tooltip: { enabled: false } },
      scales: {
        x: { type: "linear", display: false, min: xMin, max: xMax },
        y: { type: "linear", display: false, min: yMin, max: yMax },
      },
    } as any,
    plugins: [decor],
  });
}

export default function App() {
  const leftRefs = useRef<(HTMLCanvasElement | null)[]>([]);
  const rightRefs = useRef<(HTMLCanvasElement | null)[]>([]);
  useEffect(() => {
    const charts: Chart[] = [];
    leftPanels.forEach((p, i) => charts.push(makeLeft(leftRefs.current[i]!, p)));
    rightPanels.forEach((p, i) => charts.push(makeRight(rightRefs.current[i]!, p)));
    return () => charts.forEach((c) => c.destroy());
  }, []);
  const base: React.CSSProperties = { position: "absolute", left: 0, display: "block", filter: "blur(0.6px)" };
  return (
    <div style={{ position: "absolute", left: 0, top: 0, width: 1418, height: 2332, overflow: "hidden", background: "#fff" }}>
      {leftPanels.map((p, i) => (
        <canvas key={"l" + i} ref={(el) => { leftRefs.current[i] = el; }} width={760} height={p.h} style={{ ...base, top: p.top, left: 0 }} />
      ))}
      {rightPanels.map((p, i) => (
        <canvas key={"r" + i} ref={(el) => { rightRefs.current[i] = el; }} width={718} height={p.h} style={{ ...base, top: p.top, left: 700 }} />
      ))}
    </div>
  );
}
